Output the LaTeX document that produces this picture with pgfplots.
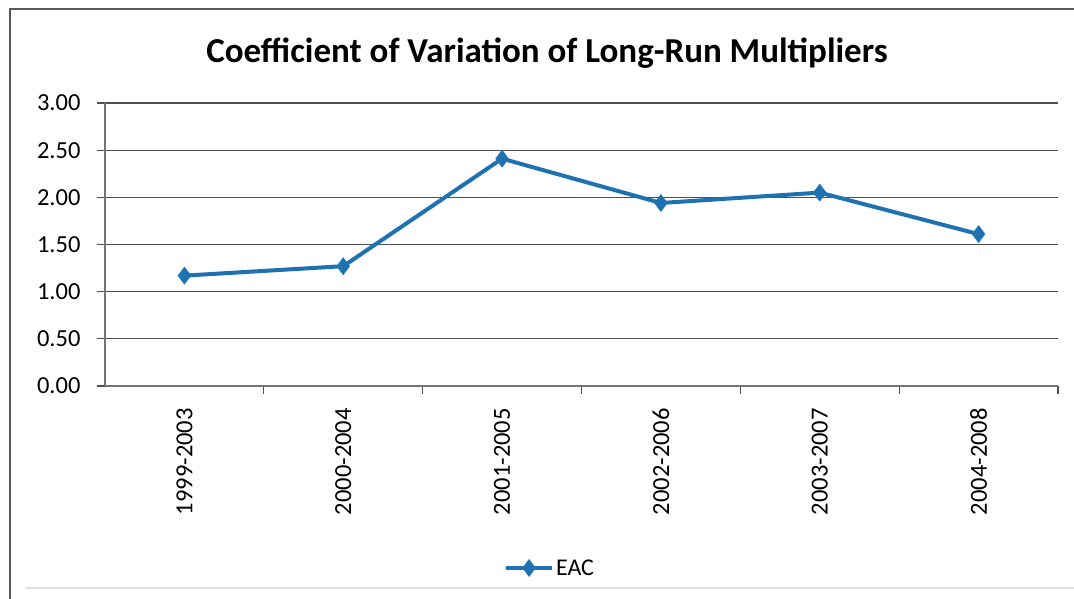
\documentclass[border=0pt]{standalone}
\usepackage{pgfplots}
\pgfplotsset{compat=1.18}
\usepackage{fontspec}
\setmainfont{Carlito}
\definecolor{eac}{RGB}{30,114,178}
\definecolor{gridgray}{RGB}{80,80,80}
\begin{document}
\begin{tikzpicture}[x=1pt,y=1pt]
\useasboundingbox (0,0) rectangle (1074,599);
\fill[white] (0,0) rectangle (1074,599);
% chart frame
\draw[black!65, line width=1.6pt] (10,0) -- (10,590) -- (1074,590);
\draw[black!12, line width=1.2pt] (25,11) -- (1074,11);
% title
\node[font=\fontsize{35}{42}\selectfont\bfseries, anchor=base, inner sep=0pt]
  at (547,536) {Coefficient of Variation of Long-Run Multipliers};
\begin{axis}[
  at={(105pt,213pt)}, anchor=south west,
  width=953pt, height=283pt, scale only axis,
  xmin=-0.5, xmax=5.5, ymin=0, ymax=3,
  axis x line*=bottom, axis y line*=left,
  axis line style={-, gridgray!80, line width=1.3pt},
  ytick={0,0.5,1,1.5,2,2.5,3},
  ymajorgrids, major grid style={gridgray, line width=1.2pt},
  xtick={0,1,2,3,4,5},
  xticklabels={1999-2003,2000-2004,2001-2005,2002-2006,2003-2007,2004-2008},
  minor xtick={0.5,1.5,2.5,3.5,4.5,5.5},
  tick align=outside,
  major tick length=8pt, minor tick length=8pt,
  major x tick style={draw=none},
  major y tick style={gridgray, line width=1.2pt},
  minor tick style={gridgray, line width=1.2pt},
  /pgf/number format/assume math mode=true,
  yticklabel={\pgfmathprintnumber[fixed, fixed zerofill, precision=2]{\tick}},
  yticklabel style={font=\fontsize{24.5}{28}\selectfont, xshift=-13pt},
  xticklabel style={font=\fontsize{24.5}{28}\selectfont, rotate=90, anchor=east,
    inner xsep=14pt},
  legend style={at={(0.467,-0.643)}, anchor=center, draw=none, fill=none,
    font=\fontsize{24}{28}\selectfont, inner sep=0pt},
  legend image code/.code={
    \draw[#1, mark repeat=2, mark phase=2] plot coordinates {(0pt,0pt) (23pt,0pt) (46pt,0pt)};
  },
  clip=false,
]
\addplot[eac, line width=4pt, mark=diamond*, mark size=8.5pt,
  mark options={line width=0.5pt, fill=eac}]
  coordinates {(0,1.17) (1,1.27) (2,2.41) (3,1.94) (4,2.05) (5,1.61)};
\addlegendentry{EAC}
\end{axis}
\end{tikzpicture}
\end{document}
